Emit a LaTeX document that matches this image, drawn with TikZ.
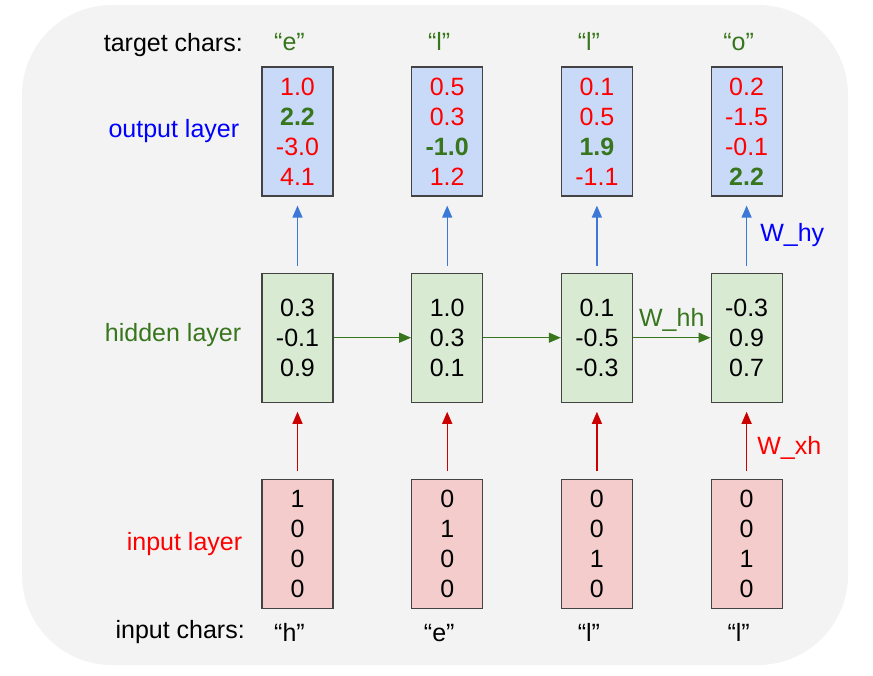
\documentclass[tikz,border=0pt]{standalone}
\usepackage{fontspec}
\setmainfont{Liberation Sans}
\usepackage{xcolor}
\usepackage{tikz}
\usetikzlibrary{positioning,arrows.meta}
\definecolor{bggray}{HTML}{F3F3F3}
\definecolor{outblue}{HTML}{C9DAF8}
\definecolor{hidgreen}{HTML}{D9EAD3}
\definecolor{inpink}{HTML}{F4CCCC}
\definecolor{boxborder}{HTML}{434343}
\definecolor{mygreen}{HTML}{38761D}
\definecolor{myred}{HTML}{FF0000}
\definecolor{myblue}{HTML}{0000FF}
\definecolor{arrowblue}{HTML}{3C78D8}
\definecolor{arrowred}{HTML}{CC0000}

\newcommand{\rd}[1]{\textcolor{myred}{#1}}
\newcommand{\gr}[1]{\textcolor{mygreen}{\textbf{#1}}}

\begin{document}
\begin{tikzpicture}[x=1pt, y=-1pt, font=\fontsize{25}{30}\selectfont,
    node distance=76pt and 77.5pt,
    vec/.style={draw=boxborder, line width=1.2pt, minimum width=71pt,
        minimum height=129pt, inner sep=0pt, align=center},
    outvec/.style={vec, fill=outblue},
    hidvec/.style={vec, fill=hidgreen},
    invec/.style={vec, fill=inpink},
    lbl/.style={inner sep=0pt},
    link/.style={-{Triangle[length=12pt, width=10pt]}, line width=1.3pt}]
    \fill[bggray, rounded corners=90pt] (22,5) rectangle (848,665);
    \useasboundingbox (0,0) rectangle (873,675);

    % output layer
    \node[outvec] (y1) at (297.5,131.5) {\rd{1.0}\\ \gr{2.2}\\ \rd{-3.0}\\ \rd{4.1}};
    \node[outvec] (y2) [right=of y1] {\rd{0.5}\\ \rd{0.3}\\ \gr{-1.0}\\ \rd{1.2}};
    \node[outvec] (y3) [right=of y2] {\rd{0.1}\\ \rd{0.5}\\ \gr{1.9}\\ \rd{-1.1}};
    \node[outvec] (y4) [right=of y3] {\rd{0.2}\\ \rd{-1.5}\\ \rd{-0.1}\\ \gr{2.2}};

    % hidden layer
    \node[hidvec] (h1) [below=of y1] {0.3\\ -0.1\\ 0.9};
    \node[hidvec] (h2) [below=of y2] {1.0\\ 0.3\\ 0.1};
    \node[hidvec] (h3) [below=of y3] {0.1\\ -0.5\\ -0.3};
    \node[hidvec] (h4) [below=of y4] {-0.3\\ 0.9\\ 0.7};

    % input layer
    \node[invec] (x1) [below=of h1] {1\\ 0\\ 0\\ 0};
    \node[invec] (x2) [below=of h2] {0\\ 1\\ 0\\ 0};
    \node[invec] (x3) [below=of h3] {0\\ 0\\ 1\\ 0};
    \node[invec] (x4) [below=of h4] {0\\ 0\\ 1\\ 0};

    % row labels
    \node[lbl, text=myblue] (ylab) [left=22pt of y1] {output layer};
    \node[lbl, text=mygreen, yshift=3pt] (hlab) [left=20pt of h1] {hidden layer};
    \node[lbl, text=myred] (xlab) [left=19pt of x1] {input layer};
    \node[lbl, anchor=base east] (tlab) at (243,51) {target chars:};
    \node[lbl, anchor=base east] (clab) at (245,638) {input chars:};

    % characters
    \node[lbl, anchor=base, text=mygreen] (t1) at ([xshift=-8pt, yshift=16pt]y1.north) {“e”};
    \node[lbl, anchor=base, text=mygreen] (t2) at ([xshift=-8pt, yshift=16pt]y2.north) {“l”};
    \node[lbl, anchor=base, text=mygreen] (t3) at ([xshift=-8pt, yshift=16pt]y3.north) {“l”};
    \node[lbl, anchor=base, text=mygreen] (t4) at ([xshift=-8pt, yshift=16pt]y4.north) {“o”};
    \node[lbl, anchor=base] (c1) at ([xshift=-8pt, yshift=-32pt]x1.south) {“h”};
    \node[lbl, anchor=base] (c2) at ([xshift=-8pt, yshift=-32pt]x2.south) {“e”};
    \node[lbl, anchor=base] (c3) at ([xshift=-8pt, yshift=-32pt]x3.south) {“l”};
    \node[lbl, anchor=base] (c4) at ([xshift=-8pt, yshift=-32pt]x4.south) {“l”};

    % connections
    \foreach \i in {1,...,3} {
        \draw[link, arrowblue, shorten <=7pt, shorten >=9pt] (h\i) -- (y\i);
        \draw[link, arrowred, shorten <=8pt, shorten >=9pt] (x\i) -- (h\i);
    }
    \draw[link, arrowblue, shorten <=7pt, shorten >=9pt] (h4) -- node[lbl, right=13pt, text=myblue] {W\_hy} (y4);
    \draw[link, arrowred, shorten <=8pt, shorten >=9pt] (x4) -- node[lbl, pos=0.4, right=10pt, text=myred] {W\_xh} (h4);
    \draw[link, mygreen] (h1) -- (h2);
    \draw[link, mygreen] (h2) -- (h3);
    \draw[link, mygreen] (h3) -- node[lbl, above=6pt, text=mygreen] {W\_hh} (h4);
\end{tikzpicture}
\end{document}
